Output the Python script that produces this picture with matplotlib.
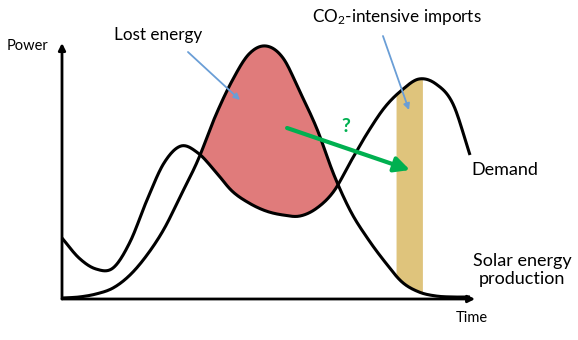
import numpy as np
import matplotlib
matplotlib.use("Agg")
import matplotlib.pyplot as plt

plt.rcParams["font.family"] = ["Lato", "DejaVu Sans"]
plt.rcParams["mathtext.fontset"] = "custom"
plt.rcParams["mathtext.rm"] = "Lato"
plt.rcParams["mathtext.it"] = "Lato:italic"

# hourly profile over one day (arbitrary power units)
hours = list(range(25))
demand = [24, 16, 11.6, 12, 22.4, 39.2, 54, 60.8, 58, 50.8, 42.8, 38, 34.8,
          33.2, 32.8, 36, 42.8, 54.8, 66.4, 76.4, 83.2, 87.6, 85.6, 77.6, 57.2]
solar = [0, 0.4, 1.6, 4, 9.2, 17.2, 27.6, 41.2, 55.2, 72.4, 86.8, 97.6, 100.8,
         96, 82.4, 67.6, 49.2, 34.4, 23.6, 14.4, 6.4, 2.4, 0.8, 0.4, 0.4]
import_start, import_end = 19.65, 21.24

RED = "#e07b7b"
TAN = "#dfc47c"
GREEN = "#00b050"
BLUE = "#6a9ed6"


def smooth(x, y, n=20):
    # Catmull-Rom pass through the hourly points
    x = np.asarray(x, float)
    y = np.asarray(y, float)
    px = np.r_[2 * x[0] - x[1], x, 2 * x[-1] - x[-2]]
    py = np.r_[2 * y[0] - y[1], y, 2 * y[-1] - y[-2]]
    s = np.linspace(0, 1, n, endpoint=False)
    xs, ys = [], []
    for i in range(1, len(px) - 2):
        for arr, out in ((px, xs), (py, ys)):
            p0, p1, p2, p3 = arr[i - 1:i + 3]
            out.append(0.5 * (2 * p1 + (-p0 + p2) * s
                              + (2 * p0 - 5 * p1 + 4 * p2 - p3) * s ** 2
                              + (-p0 + 3 * p1 - 3 * p2 + p3) * s ** 3))
    xs.append([x[-1]])
    ys.append([y[-1]])
    return np.concatenate(xs), np.concatenate(ys)


t, d = smooth(hours, demand)
_, sol = smooth(hours, solar)

fig = plt.figure(figsize=(5.78, 3.4), dpi=100)
ax = fig.add_axes([0, 0, 1, 1])
ax.set_xlim(-62 / 17, (578 - 62) / 17)
ax.set_ylim(-42 / 2.5, 298 / 2.5)
ax.axis("off")

# surplus solar that is lost, and the evening import window
ax.fill_between(t, d, sol, where=sol > d, interpolate=True, color=RED, lw=0, zorder=1)
ax.fill_between(t, sol, d, where=(t >= import_start) & (t <= import_end),
                color=TAN, lw=0, zorder=1)

ax.plot(t, d, color="black", lw=2.2, zorder=3, solid_capstyle="butt")
ax.plot(t, sol, color="black", lw=2.2, zorder=3, solid_capstyle="butt")

# axes with arrow heads
axis_kw = dict(arrowstyle="-|>", color="black", lw=2, mutation_scale=10,
               shrinkA=0, shrinkB=0)
ax.annotate("", xy=(0, 102), xytext=(0, -0.4), arrowprops=axis_kw, zorder=4)
ax.annotate("", xy=(24.3, -0.4), xytext=(0, -0.4), arrowprops=axis_kw, zorder=4)
ax.text(-2.0, 100.8, "Power", fontsize=10.5, ha="center", va="center")
ax.text(24.1, -8, "Time", fontsize=10.5, ha="center", va="center")

# callouts
blue_kw = dict(arrowstyle="-|>", color=BLUE, lw=1.3, mutation_scale=9,
               shrinkA=0, shrinkB=0)
ax.text(5.65, 105.2, "Lost energy", fontsize=12.3, ha="center", va="center")
ax.annotate("", xy=(10.47, 79.2), xytext=(7.41, 98.4), arrowprops=blue_kw, zorder=5)
ax.text(19.7, 112.4, "CO$_2$-intensive imports", fontsize=12.3, ha="center", va="center")
ax.annotate("", xy=(20.41, 75.2), xytext=(18.88, 104.8), arrowprops=blue_kw, zorder=5)

ax.annotate("", xy=(20.47, 51.2), xytext=(13.24, 68),
            arrowprops=dict(arrowstyle="-|>,head_length=0.7,head_width=0.35",
                            color=GREEN, lw=3, mutation_scale=13,
                            shrinkA=0, shrinkB=0), zorder=6)
ax.text(16.7, 68.4, "?", fontsize=14, fontweight="bold", color=GREEN,
        ha="center", va="center")

ax.text(26.06, 51.2, "Demand", fontsize=13, ha="center", va="center")
ax.text(27.06, 11.2, "Solar energy\nproduction", fontsize=13, ha="center",
        va="center", linespacing=1.2)

fig.savefig("out.png", dpi=100)
